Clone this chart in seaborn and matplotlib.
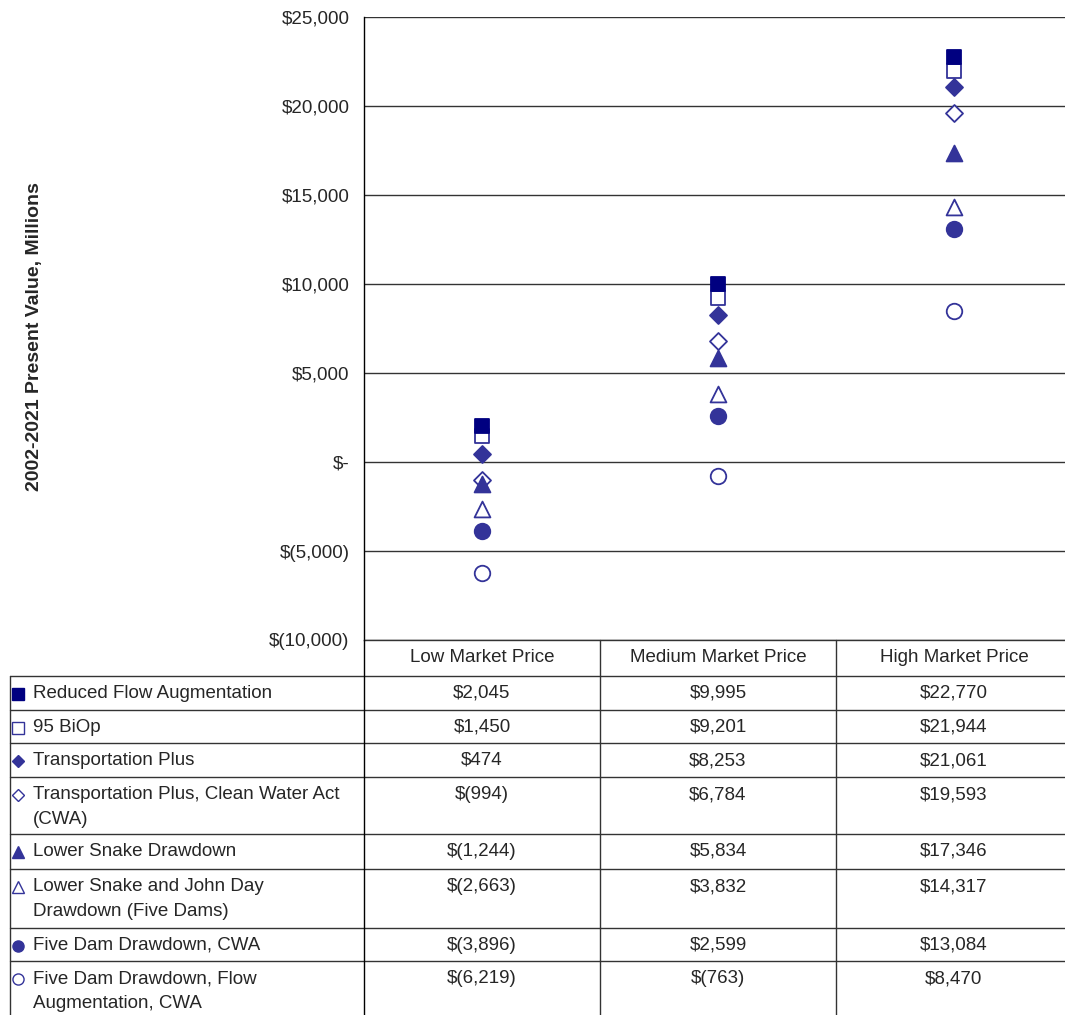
import matplotlib
matplotlib.use("Agg")
import matplotlib.pyplot as plt
from matplotlib.lines import Line2D
import seaborn as sns

# data
markets = ["Low Market Price", "Medium Market Price", "High Market Price"]
series_names = [
    "Reduced Flow Augmentation",
    "95 BiOp",
    "Transportation Plus",
    "Transportation Plus, Clean Water Act\n(CWA)",
    "Lower Snake Drawdown",
    "Lower Snake and John Day\nDrawdown (Five Dams)",
    "Five Dam Drawdown, CWA",
    "Five Dam Drawdown, Flow\nAugmentation, CWA",
]
reduced_flow = [2045, 9995, 22770]
biop_95 = [1450, 9201, 21944]
transport_plus = [474, 8253, 21061]
transport_plus_cwa = [-994, 6784, 19593]
lower_snake = [-1244, 5834, 17346]
lower_snake_john_day = [-2663, 3832, 14317]
five_dam_cwa = [-3896, 2599, 13084]
five_dam_flow_cwa = [-6219, -763, 8470]
all_values = [reduced_flow, biop_95, transport_plus, transport_plus_cwa,
              lower_snake, lower_snake_john_day, five_dam_cwa, five_dam_flow_cwa]

NAVY = "#000080"
BLUE = "#333399"
# marker, face colour, edge colour
styles = [
    ("s", NAVY, NAVY),
    ("s", "white", BLUE),
    ("D", BLUE, BLUE),
    ("D", "white", BLUE),
    ("^", BLUE, BLUE),
    ("^", "white", BLUE),
    ("o", BLUE, BLUE),
    ("o", "white", BLUE),
]
sizes = [110, 110, 75, 75, 130, 130, 125, 125]
FS = 13.5


def money(v):
    if v == 0:
        return "$-"
    if v < 0:
        return "$({:,.0f})".format(-v)
    return "${:,.0f}".format(v)


sns.set_style("white")
plt.rcParams["font.family"] = ["Liberation Sans", "DejaVu Sans"]

W, H = 1065, 1015
fig = plt.figure(figsize=(W / 100, H / 100), dpi=100)


def fx(x):
    return x / W


def fy(y):
    return 1 - y / H


ax = fig.add_axes([fx(364), fy(640), fx(708), fy(17) - fy(640)])

for i, vals in enumerate(all_values):
    m, fc, ec = styles[i]
    sns.scatterplot(x=markets, y=vals, marker=m, s=sizes[i], color=fc,
                    edgecolor=ec, linewidth=1.3, ax=ax,
                    zorder=20 if i == 0 else 5 + i)

ax.set_xlim(-0.5, 2.5)
ax.set_ylim(-10000, 25000)
ax.set_yticks(range(-10000, 25001, 5000))
ax.set_yticklabels([money(v) for v in range(-10000, 25001, 5000)], fontsize=FS)
ax.set_xticks([])
ax.set_xlabel("")
ax.set_ylabel("")
ax.tick_params(axis="y", direction="out", length=7, width=1, color="#333333", pad=3.5)
ax.yaxis.grid(True, color="#333333", linewidth=1)
for s in ["top", "right"]:
    ax.spines[s].set_visible(False)
ax.spines["bottom"].set_color("#333333")
ax.spines["bottom"].set_linewidth(1)
ax.spines["left"].set_color("black")
ax.spines["left"].set_linewidth(1)
ax.set_axisbelow(True)

fig.text(fx(35), fy(337), "2002-2021 Present Value, Millions", rotation=90,
         fontsize=14, fontweight="bold", ha="center", va="center")

# data table under the chart
line_kw = dict(color="#333333", linewidth=1)
row_edges = [676, 710, 743, 777, 834, 869, 928, 961]
col_edges = [364, 600, 836, 1072]
col_centers = [(col_edges[k] + col_edges[k + 1]) / 2 for k in range(3)]

for y in row_edges:
    fig.add_artist(Line2D([fx(10), 1], [fy(y), fy(y)], **line_kw))
fig.add_artist(Line2D([fx(10), fx(10)], [fy(676), 0], **line_kw))
fig.add_artist(Line2D([fx(364), fx(364)], [fy(640), 0], color="black", linewidth=1))
for x in col_edges[1:3]:
    fig.add_artist(Line2D([fx(x), fx(x)], [fy(640), 0], **line_kw))

for k, name in enumerate(markets):
    fig.text(fx(col_centers[k]), fy(657), name, fontsize=FS, ha="center", va="center")

for i, name in enumerate(series_names):
    top = row_edges[i]
    m, fc, ec = styles[i]
    fig.add_artist(Line2D([fx(18)], [fy(top + 18)], marker=m, linestyle="none",
                          markersize=8 if m != "D" else 6.5, markerfacecolor=fc,
                          markeredgecolor=ec, markeredgewidth=1))
    fig.text(fx(33), fy(top + 9), name, fontsize=FS, ha="left", va="top",
             linespacing=1.6)
    for k in range(3):
        fig.text(fx(col_centers[k]), fy(top + 9), money(all_values[i][k]),
                 fontsize=FS, ha="center", va="top")

fig.savefig("out.png", dpi=100)
